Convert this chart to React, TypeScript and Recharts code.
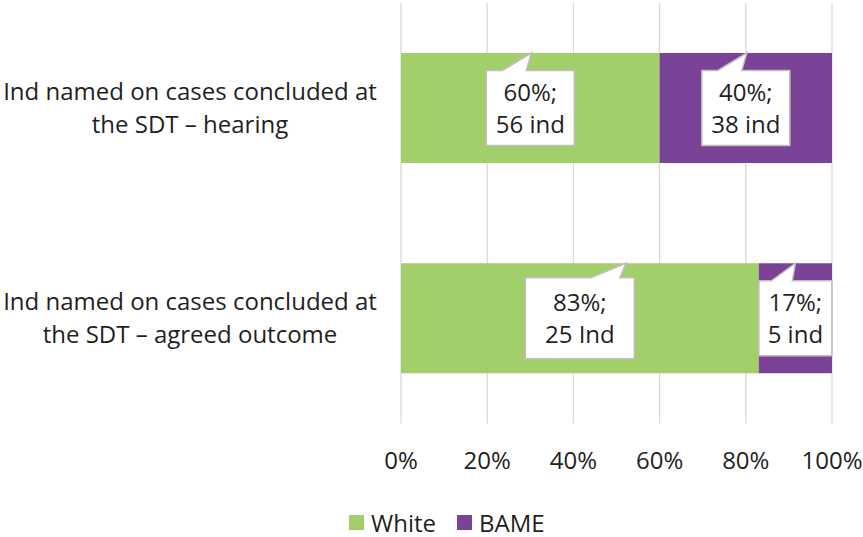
import { BarChart, Bar, XAxis, YAxis, CartesianGrid, Legend, LabelList } from "recharts";

const FONT = "'Open Sans', sans-serif";
const TEXT = "#1f1f1f";
const GRID = "#d9d9d9";
const GREEN = "#a2cf6a";
const PURPLE = "#7b4397";

const CATEGORIES = [
  "Ind named on cases concluded at\nthe SDT – hearing",
  "Ind named on cases concluded at\nthe SDT – agreed outcome",
];
const WHITE_PCT = [60, 83];
const BAME_PCT = [40, 17];
const WHITE_COUNT = ["56 ind", "25 Ind"];
const BAME_COUNT = ["38 ind", "5 ind"];
const X_TICKS = [0, 20, 40, 60, 80, 100];

const SERIES = [
  { key: "white", name: "White", color: GREEN, counts: WHITE_COUNT },
  { key: "bame", name: "BAME", color: PURPLE, counts: BAME_COUNT },
];

const data = CATEGORIES.map((name, i) => ({
  name,
  white: WHITE_PCT[i],
  bame: BAME_PCT[i],
}));

// callout box sizes and where the wedge meets the bar, per series / row
const CALLOUTS: Record<string, { w: number; h: number; tip: number; notch: [number, number] }[]> = {
  white: [
    { w: 88, h: 75, tip: 1, notch: [-28, -4] },
    { w: 109, h: 81, tip: 46, notch: [11, 40] },
  ],
  bame: [
    { w: 88, h: 75, tip: 1, notch: [-28, -4] },
    { w: 73, h: 75, tip: 0, notch: [-24, -3] },
  ],
};

function makeCallout(seriesKey: string, counts: string[]) {
  return (props: any) => {
    const vb = props.viewBox ?? props;
    const { x, y, width, height } = vb;
    const index = props.index ?? 0;
    const cfg = CALLOUTS[seriesKey][index];
    const cx = x + width / 2;
    const cy = y + height / 2;
    const left = cx - cfg.w / 2;
    const right = cx + cfg.w / 2;
    const top = cy - cfg.h / 2;
    const bottom = cy + cfg.h / 2;
    const path = [
      `M${left},${top}`,
      `L${cx + cfg.notch[0]},${top}`,
      `L${cx + cfg.tip},${y}`,
      `L${cx + cfg.notch[1]},${top}`,
      `L${right},${top}`,
      `L${right},${bottom}`,
      `L${left},${bottom}`,
      "Z",
    ].join(" ");
    return (
      <g>
        <path d={path} fill="#fff" stroke="#bfbfbf" strokeWidth={1.5} />
        <text textAnchor="middle" fontFamily={FONT} fontSize={24} fill={TEXT}>
          <tspan x={cx} y={cy - 7}>{`${props.value}%;`}</tspan>
          <tspan x={cx} y={cy + 25}>{counts[index]}</tspan>
        </text>
      </g>
    );
  };
}

function CategoryTick(props: any) {
  const lines = String(props.payload.value).split("\n");
  return (
    <text textAnchor="middle" fontFamily={FONT} fontSize={24} fill={TEXT}>
      <tspan x={190} y={props.y - 8.5}>{lines[0]}</tspan>
      <tspan x={190} y={props.y + 24.5}>{lines[1]}</tspan>
    </text>
  );
}

function LegendBox() {
  return (
    <div
      style={{
        display: "flex",
        alignItems: "center",
        height: 30,
        paddingLeft: 349,
        fontFamily: FONT,
        fontSize: 24,
        color: TEXT,
      }}
    >
      {SERIES.map((s) => (
        <div key={s.key} style={{ display: "flex", alignItems: "center", marginRight: 21 }}>
          <span style={{ width: 15, height: 15, background: s.color, marginRight: 7 }} />
          <span>{s.name}</span>
        </div>
      ))}
    </div>
  );
}

export default function App() {
  return (
    <div style={{ position: "absolute", left: 0, top: 0, width: 863, height: 537, background: "#fff" }}>
      <BarChart
        width={863}
        height={537}
        data={data}
        layout="vertical"
        margin={{ top: 3, right: 31, bottom: 0, left: 0 }}
      >
        <CartesianGrid horizontal={false} stroke={GRID} strokeWidth={1.3} />
        <XAxis
          type="number"
          domain={[0, 100]}
          ticks={X_TICKS}
          interval={0}
          tickFormatter={(v: number) => `${v}%`}
          axisLine={false}
          tickLine={false}
          tickMargin={22}
          height={83.5}
          tick={{ fill: TEXT, fontSize: 24, fontFamily: FONT }}
        />
        <YAxis
          type="category"
          dataKey="name"
          width={401}
          axisLine={false}
          tickLine={false}
          tick={<CategoryTick />}
        />
        <Legend
          verticalAlign="bottom"
          wrapperStyle={{ left: 0, width: 863 }}
          content={() => <LegendBox />}
        />
        {SERIES.map((s) => (
          <Bar
            key={s.key}
            dataKey={s.key}
            name={s.name}
            stackId="share"
            fill={s.color}
            barSize={110}
            isAnimationActive={false}
          >
            <LabelList dataKey={s.key} content={makeCallout(s.key, s.counts)} />
          </Bar>
        ))}
      </BarChart>
    </div>
  );
}
